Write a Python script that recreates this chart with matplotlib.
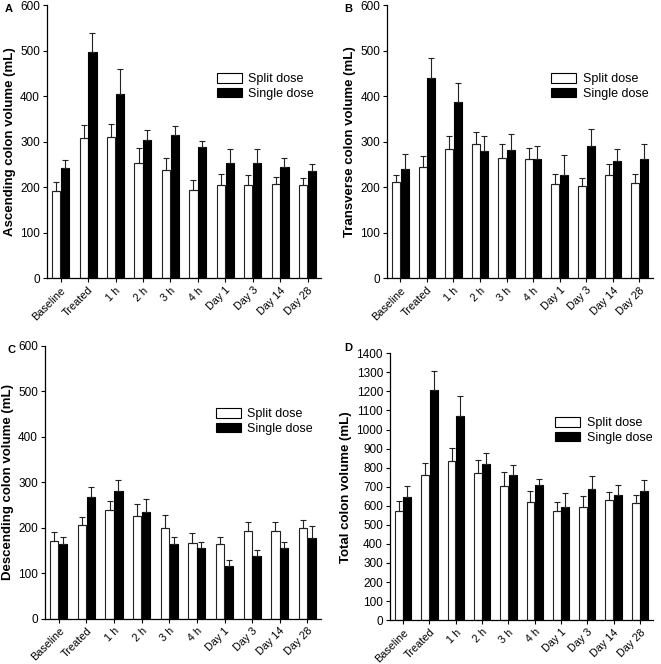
import matplotlib.pyplot as plt
import numpy as np
from matplotlib.patches import Patch

plt.rcParams['font.family'] = ['Liberation Sans', 'DejaVu Sans']

categories = ['Baseline', 'Treated', '1 h', '2 h', '3 h', '4 h', 'Day 1', 'Day 3', 'Day 14', 'Day 28']

# mean and upper error (SE)
asc_split = [192, 309, 311, 253, 237, 193, 206, 204, 207, 205]
asc_split_err = [20, 28, 29, 34, 27, 22, 23, 24, 15, 15]
asc_single = [243, 497, 404, 304, 315, 288, 254, 254, 244, 235]
asc_single_err = [16, 43, 56, 21, 20, 14, 29, 29, 21, 17]

trans_split = [211, 245, 285, 294, 265, 263, 207, 202, 228, 210]
trans_split_err = [17, 24, 27, 27, 29, 23, 23, 18, 23, 20]
trans_single = [240, 440, 387, 279, 281, 263, 226, 290, 257, 262]
trans_single_err = [32, 44, 42, 33, 35, 28, 44, 39, 26, 33]

desc_split = [171, 207, 239, 226, 199, 167, 165, 193, 193, 199]
desc_split_err = [19, 18, 20, 27, 29, 21, 14, 19, 19, 19]
desc_single = [165, 268, 281, 236, 165, 155, 116, 139, 156, 177]
desc_single_err = [15, 21, 24, 27, 16, 13, 14, 13, 13, 27]

tot_split = [574, 760, 833, 774, 702, 621, 574, 596, 628, 612]
tot_split_err = [49, 63, 69, 65, 75, 58, 44, 57, 42, 46]
tot_single = [647, 1205, 1070, 818, 760, 707, 596, 686, 658, 677]
tot_single_err = [55, 100, 105, 59, 56, 35, 72, 70, 49, 60]


def panel(ax, split, split_err, single, single_err, ylabel, ymax, leg_x=0.6, leg_y=0.79):
    x = np.arange(len(categories))
    w = 0.3
    zeros = np.zeros(len(categories))
    ax.bar(x - w / 2 - 0.01, split, w, color='white', edgecolor='#222222', linewidth=0.8,
           yerr=[zeros, split_err], error_kw=dict(ecolor='#222222', elinewidth=0.8, capsize=2, capthick=0.8))
    ax.bar(x + w / 2 + 0.01, single, w, color='black', edgecolor='black', linewidth=0.8,
           yerr=[zeros, single_err], error_kw=dict(ecolor='#222222', elinewidth=0.8, capsize=2, capthick=0.8))
    ax.set_xlim(-0.5, 9.5)
    ax.set_ylim(0, ymax)
    ax.set_yticks(np.arange(0, ymax + 1, 100))
    ax.set_xticks(x)
    ax.set_xticklabels(categories, rotation=45, ha='right', rotation_mode='anchor', fontsize=7.8)
    ax.tick_params(axis='y', labelsize=8.5, length=3, width=0.8, pad=2)
    ax.tick_params(axis='x', length=3, width=0.8, pad=2)
    ax.spines['top'].set_visible(False)
    ax.spines['right'].set_visible(False)
    ax.spines['left'].set_linewidth(0.9)
    ax.spines['bottom'].set_linewidth(0.9)
    ax.set_ylabel(ylabel, fontsize=9.5, fontweight='bold', labelpad=3)
    handles = [Patch(facecolor='white', edgecolor='black', linewidth=0.8, label='Split dose'),
               Patch(facecolor='black', edgecolor='black', linewidth=0.8, label='Single dose')]
    ax.legend(handles=handles, loc='upper left', bbox_to_anchor=(leg_x, leg_y), frameon=False,
              fontsize=9, handlelength=2.0, handleheight=0.8, labelspacing=0.2, handletextpad=0.5,
              borderaxespad=0)


fig = plt.figure(figsize=(6.61, 6.64), dpi=100)
axA = fig.add_axes([0.071, 0.581, 0.415, 0.411])
axB = fig.add_axes([0.5855, 0.581, 0.402, 0.411])
axC = fig.add_axes([0.068, 0.068, 0.418, 0.411])
axD = fig.add_axes([0.59, 0.066, 0.398, 0.402])

panel(axA, asc_split, asc_split_err, asc_single, asc_single_err, 'Ascending colon volume (mL)', 600, leg_y=0.77)
panel(axB, trans_split, trans_split_err, trans_single, trans_single_err, 'Transverse colon volume (mL)', 600, leg_y=0.77)
panel(axC, desc_split, desc_split_err, desc_single, desc_single_err, 'Descending colon volume (mL)', 600)
panel(axD, tot_split, tot_split_err, tot_single, tot_single_err, 'Total colon volume (mL)', 1400, leg_x=0.61, leg_y=0.78)

fig.text(5 / 661, 1 - 9 / 664, 'A', fontsize=8, fontweight='bold', va='center')
fig.text(344 / 661, 1 - 9 / 664, 'B', fontsize=8, fontweight='bold', va='center')
fig.text(7 / 661, 1 - 350 / 664, 'C', fontsize=8, fontweight='bold', va='center')
fig.text(344 / 661, 1 - 348 / 664, 'D', fontsize=8, fontweight='bold', va='center')

fig.savefig('out.png', dpi=100)
